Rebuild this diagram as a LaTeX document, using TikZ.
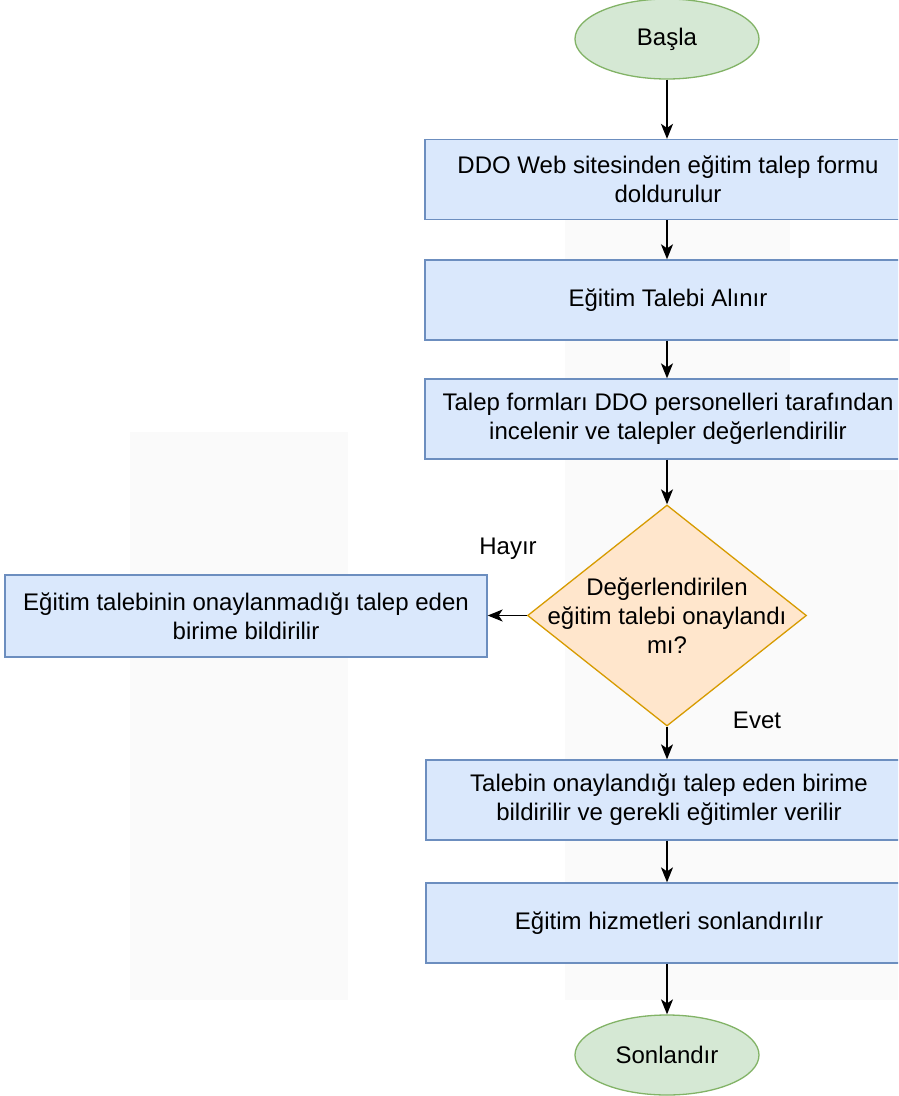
\documentclass[tikz,border=0pt]{standalone}
\usepackage{fontspec}
\setmainfont{Liberation Sans}
\usetikzlibrary{shapes.geometric,arrows.meta}
\definecolor{gfill}{HTML}{D5E8D4}
\definecolor{gline}{HTML}{82B366}
\definecolor{bfill}{HTML}{DAE8FC}
\definecolor{bline}{HTML}{6C8EBF}
\definecolor{ofill}{HTML}{FFE6CC}
\definecolor{oline}{HTML}{D79B00}
\definecolor{wm}{HTML}{FAFAFA}
\tikzset{
  x=1pt,y=-1pt,
  every node/.style={font=\fontsize{24}{29}\selectfont, align=center, text=black},
  term/.style={ellipse, fill=gfill, draw=gline, line width=1.3pt, minimum width=184pt, minimum height=80pt, inner sep=0pt},
  proc/.style={rectangle, fill=bfill, draw=bline, line width=1.3pt, minimum width=486pt, minimum height=80pt, inner sep=0pt},
  dec/.style={diamond, fill=ofill, draw=oline, line width=1.3pt, minimum width=279pt, minimum height=221pt, inner sep=0pt},
  flow/.style={line width=1.4pt, -{Stealth[length=15pt,width=12pt,inset=4pt]}},
  lab/.style={inner sep=0pt}
}
\begin{document}
\begin{tikzpicture}
\useasboundingbox (0,0) rectangle (898,1096);
\clip (0,0) rectangle (898,1096);
\fill[white] (0,0) rectangle (898,1096);
% faint watermark
\fill[wm] (130,432) rectangle (348,1000);
\fill[wm] (565,200) rectangle (790,1000);
\fill[wm] (790,470) rectangle (898,1000);
\node[term] (start) at (667,39) {Başla};
\node[proc] (p1) at (668,179.5) {DDO Web sitesinden eğitim talep formu\\doldurulur};
\node[proc] (p2) at (668,300) {Eğitim Talebi Alınır};
\node[proc] (p3) at (668,419) {Talep formları DDO personelleri tarafından\\incelenir ve talepler değerlendirilir};
\node[dec] (d) at (667,615.5) {};
\node[lab] (dt) at (667,616) {Değerlendirilen\\eğitim talebi onaylandı\\mı?};
\node[proc, minimum width=482pt, minimum height=82pt] (rej) at (246,616) {Eğitim talebinin onaylanmadığı talep eden\\birime bildirilir};
\node[proc] (p4) at (669,800) {Talebin onaylandığı talep eden birime\\bildirilir ve gerekli eğitimler verilir};
\node[proc] (p5) at (669,923) {Eğitim hizmetleri sonlandırılır};
\node[term] (end) at (667,1055) {Sonlandır};
\node[lab] (hayir) at (508,549) {Hayır};
\node[lab] (evet) at (757,720) {Evet};
\draw[flow] (start.south) -- (p1.north -| start.south);
\draw[flow] (p1.south -| start.south) -- (p2.north -| start.south);
\draw[flow] (p2.south -| start.south) -- (p3.north -| start.south);
\draw[flow] (p3.south -| start.south) -- (d.north);
\draw[flow] (d.west) -- (rej.east |- d.west);
\draw[flow] (d.south) -- (p4.north -| d.south);
\draw[flow] (p4.south -| d.south) -- (p5.north -| d.south);
\draw[flow] (p5.south -| d.south) -- (end.north);
\end{tikzpicture}
\end{document}
